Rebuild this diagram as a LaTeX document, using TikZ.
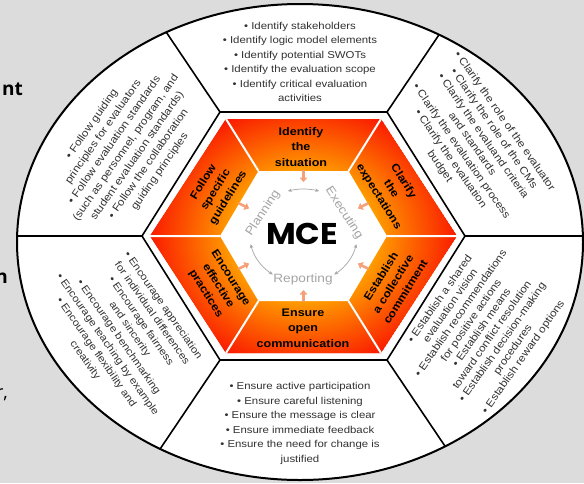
\documentclass[tikz,border=0pt]{standalone}
\usepackage{fontspec}
\setmainfont{Liberation Sans}
\newfontfamily\edgefont{Open Sans}
\newfontfamily\mcefont{Poppins}
\usetikzlibrary{calc,arrows.meta}
\definecolor{bgc}{RGB}{220,220,220}
\definecolor{hexred}{RGB}{250,20,0}
\definecolor{hexorange}{RGB}{255,165,0}
\definecolor{sectgray}{RGB}{50,50,50}
\definecolor{cycgray}{RGB}{165,165,165}
\definecolor{salmon}{RGB}{245,160,120}
\pgfdeclareradialshading{mceshade}{\pgfpoint{0bp}{0bp}}{color(0bp)=(hexorange); color(10bp)=(hexorange); color(23bp)=(hexred); color(50bp)=(hexred)}
\tikzset{
  sectline/.style={line width=1.6pt, black},
  sectxt/.style={text=sectgray, align=center, font=\fontsize{10}{14.5}\selectfont, inner sep=0pt},
  sidetxt/.style={text=sectgray, align=center, font=\fontsize{10.5}{13.2}\selectfont, inner sep=0pt},
  hexlab/.style={align=center, font=\bfseries\fontsize{11}{15.5}\selectfont, inner sep=0pt},
  hexlabr/.style={align=center, font=\bfseries\fontsize{11}{14.5}\selectfont, inner sep=0pt},
  cyclab/.style={text=cycgray, font=\fontsize{12}{12}\selectfont, inner sep=0pt},
  cyc/.style={cycgray, line width=0.7pt, {Stealth[length=4pt,width=3.5pt]}-{Stealth[length=4pt,width=3.5pt]}},
  inarrow/.style={salmon, line width=2.6pt, -{Triangle[length=4.5pt,width=7.5pt]}},
  edgetxt/.style={font=\edgefont\bfseries\fontsize{19}{19}\selectfont, anchor=base east, inner sep=0pt},
  stretched/.style={xscale=1.14},
  widen/.style={xscale=1.12},
}
\begin{document}
\begin{tikzpicture}[x=1pt,y=-1pt]
\useasboundingbox (0,0) rectangle (584,483);
\fill[bgc] (0,0) rectangle (584,483);
\begin{scope}
\clip (0,0) rectangle (584,483);
% coordinates
\coordinate (c) at (303.5,236);
\coordinate (oL) at (142,236);
\coordinate (oTL) at (220,112);
\coordinate (oTR) at (387,112);
\coordinate (oR) at (465,236);
\coordinate (oBR) at (387,360);
\coordinate (oBL) at (220,360);
\coordinate (gL) at (150,236);
\coordinate (gTL) at (226,119);
\coordinate (gTR) at (381,119);
\coordinate (gR) at (457,236);
\coordinate (gBR) at (381,353);
\coordinate (gBL) at (226,353);
\coordinate (iL) at (220,236);
\coordinate (iTL) at (258.5,171);
\coordinate (iTR) at (348.5,171);
\coordinate (iR) at (387,236);
\coordinate (iBR) at (348.5,301);
\coordinate (iBL) at (258.5,301);
% ellipse
\fill[white] (300,242) ellipse [x radius=283pt, y radius=238pt];
\begin{scope}
\clip (300,242) ellipse [x radius=283pt, y radius=238pt];
\foreach \v in {oL,oTL,oTR,oR,oBR,oBL}{
  \draw[sectline] (\v) -- ($(c)!2.2!(\v)$);
}
\end{scope}
\draw[line width=2pt] (300,242) ellipse [x radius=283pt, y radius=238pt];
% outer hexagon
\draw[sectline, fill=white] (oL) -- (oTL) -- (oTR) -- (oR) -- (oBR) -- (oBL) -- cycle;
\begin{scope}
\clip (gL) -- (gTL) -- (gTR) -- (gR) -- (gBR) -- (gBL) -- cycle;
\fill[hexred] (gL) -- (gTL) -- (gTR) -- (gR) -- (gBR) -- (gBL) -- cycle;
\shade[shading=mceshade] (c) ellipse [x radius=171pt, y radius=150pt];
\end{scope}
\fill[white] (iL) -- (iTL) -- (iTR) -- (iR) -- (iBR) -- (iBL) -- cycle;
\draw[white, line width=2pt] (iL) -- (gL) (iTL) -- (gTL) (iTR) -- (gTR)
  (iR) -- (gR) (iBR) -- (gBR) (iBL) -- (gBL);
% inward arrows
\coordinate (mT) at ($(iTL)!0.5!(iTR)$);
\coordinate (mB) at ($(iBL)!0.5!(iBR)$);
\coordinate (mUL) at ($(iL)!0.5!(iTL)$);
\coordinate (mUR) at ($(iR)!0.5!(iTR)$);
\coordinate (mLL) at ($(iL)!0.5!(iBL)$);
\coordinate (mLR) at ($(iR)!0.5!(iBR)$);
\foreach \m in {mT,mB,mUL,mUR,mLL,mLR}{
  \draw[inarrow] ($(\m)!-1pt!(c)$) -- ($(\m)!11pt!(c)$);
}
% hexagon labels
\begin{scope}[shift={(301,147)}]
\node[hexlab, stretched] (hIdentify) at (0,0) {Identify\\the\\situation};
\end{scope}
\begin{scope}[shift={(303,328)}]
\node[hexlab, stretched] (hEnsure) at (0,0) {Ensure\\open\\communication};
\end{scope}
\begin{scope}[shift={(216,190)}]
\node[hexlabr, rotate=58, widen] (hFollow) at (0,0) {Follow\\specific\\guidelines};
\end{scope}
\begin{scope}[shift={(391,189)}]
\node[hexlabr, rotate=-58, widen] (hClarify) at (0,0) {Clarify\\the\\expectations};
\end{scope}
\begin{scope}[shift={(218,286)}]
\node[hexlabr, rotate=-58, widen] (hEncourage) at (0,0) {Encourage\\effective\\practices};
\end{scope}
\begin{scope}[shift={(393,284)}]
\node[hexlabr, rotate=58, widen] (hEstablish) at (0,0) {Establish\\a collective\\commitment};
\end{scope}
% centre cycle
\begin{scope}[shift={(c)}, xscale=1.14]
\draw[cyc] plot[domain=-107:-73, samples=15] (\x:47);
\draw[cyc] plot[domain=-235:-190, samples=15] (\x:47);
\draw[cyc] plot[domain=-350:-305, samples=15] (\x:47);
\end{scope}
\begin{scope}[shift={(263,213)}]
\node[cyclab, rotate=57, widen] (plan) at (0,0) {Planning};
\end{scope}
\begin{scope}[shift={(344,213)}]
\node[cyclab, rotate=-57, widen] (exec) at (0,0) {Executing};
\end{scope}
\begin{scope}[shift={(303,279)}]
\node[cyclab, stretched] (rep) at (0,0) {Reporting};
\end{scope}
\begin{scope}[shift={(302,234)}]
\node[font=\mcefont\bfseries\fontsize{30}{30}\selectfont, inner sep=0pt, xscale=1.08] (mce) at (0,0) {MCE};
\end{scope}
% sector texts
\begin{scope}[shift={(300,62)}]
\node[sectxt, stretched] (tTop) at (0,0) {• Identify stakeholders\\• Identify logic model elements\\• Identify potential SWOTs\\• Identify the evaluation scope\\• Identify critical evaluation\\activities};
\end{scope}
\begin{scope}[shift={(300,423.5)}]
\node[sectxt, stretched] (tBottom) at (0,0) {• Ensure active participation\\• Ensure careful listening\\• Ensure the message is clear\\• Ensure immediate feedback\\• Ensure the need for change is\\justified};
\end{scope}
\begin{scope}[shift={(472,144)}]
\node[sidetxt, rotate=-55, widen] (tUR) at (0,0) {• Clarify the role of the evaluator\\• Clarify the role of the CMs\\• Clarify the evaluand criteria\\and standards\\• Clarify the evaluation process\\• Clarify the evaluation\\budget};
\end{scope}
\begin{scope}[shift={(126,148)}]
\node[sidetxt, font=\fontsize{10.5}{13.8}\selectfont, rotate=55, widen] (tUL) at (0,0) {• Follow guiding\\principles for evaluators\\• Follow evaluation standards\\(such as personnel, program, and\\student evaluation standards)\\• Follow the collaboration\\guiding principles};
\end{scope}
\begin{scope}[shift={(124,333)}]
\node[sidetxt, font=\fontsize{10.2}{13.6}\selectfont, rotate=-55, widen] (tLL) at (0,0) {• Encourage appreciation\\for individual differences\\• Encourage fairness\\and sincerity\\• Encourage benchmarking\\• Encourage teaching by example\\• Encourage flexibility and\\creativity};
\end{scope}
\begin{scope}[shift={(482,328)}]
\node[sidetxt, font=\fontsize{10.5}{12.7}\selectfont, rotate=55, widen] (tLR) at (0,0) {• Establish a shared\\evaluation vision\\• Establish recommendations\\for positive actions\\• Establish means\\toward conflict resolution\\• Establish decision-making\\procedures\\• Establish reward options};
\end{scope}
% cut-off text at the left edge
\node[edgetxt] (e1) at (23,95) {nt};
\node[edgetxt] (e2) at (8,283) {n};
\node[edgetxt, font=\edgefont\fontsize{18}{18}\selectfont] (e3) at (8,398) {r,};
\end{scope}
\end{tikzpicture}
\end{document}
